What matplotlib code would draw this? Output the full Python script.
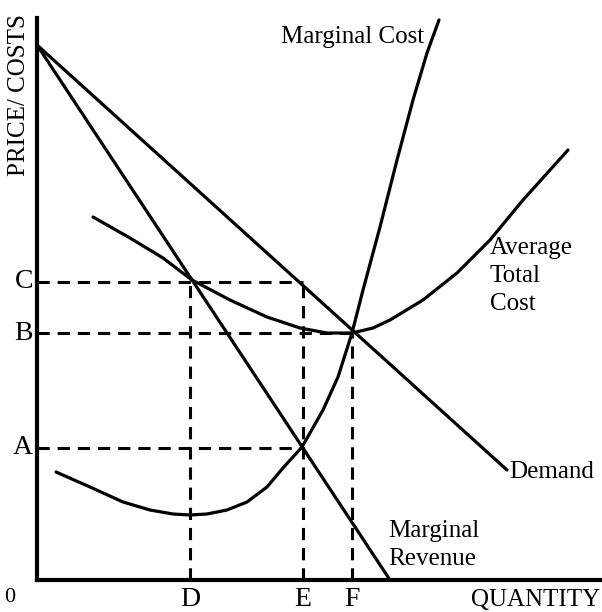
import numpy as np
import matplotlib.pyplot as plt

plt.rcParams['font.family'] = ['Liberation Serif', 'DejaVu Serif']

# units: quantity / price measured from the origin of the diagram
demand_q = [0, 470]
demand_p = [535, 110]
mr_q = [0, 353]
mr_p = [535, 0]
atc_q = [56, 93, 126, 155, 193, 230, 263, 290, 315, 336, 353, 386, 420, 453, 486, 531]
atc_p = [363, 342, 322, 300, 280, 263, 252, 247, 247, 252, 260, 280, 307, 340, 380, 430]
mc_q = [19, 53, 86, 113, 136, 153, 170, 190, 210, 230, 246, 265, 286, 301, 315,
        326, 343, 360, 376, 390, 402]
mc_p = [108, 93, 78, 70, 66, 65, 66, 70, 78, 93, 112, 133, 170, 203, 247,
        290, 353, 420, 480, 527, 560]

price_levels = {'C': 298, 'B': 247, 'A': 132}
price_ends = {'C': 266, 'B': 315, 'A': 266}
qty_levels = {'D': 153, 'E': 266, 'F': 315}
qty_tops = {'D': 298, 'E': 298, 'F': 247}

fig = plt.figure(figsize=(6.02, 6.12), dpi=100)
ax = fig.add_axes([0, 0, 1, 1])
ax.set_xlim(-37, 565)
ax.set_ylim(-32, 580)

lw = 2.3
for q, p in [(demand_q, demand_p), (mr_q, mr_p), (atc_q, atc_p), (mc_q, mc_p)]:
    ax.plot(q, p, color='black', lw=lw, solid_capstyle='round', solid_joinstyle='round')

dash = (0, (4, 2.6))
for k, p in price_levels.items():
    ax.plot([0, price_ends[k]], [p, p], color='black', lw=2.2, linestyle=dash)
    ax.text(-4, p, k, fontsize=20, ha='right', va='center')
for k, q in qty_levels.items():
    ax.plot([q, q], [0, qty_tops[k]], color='black', lw=2.2, linestyle=dash)
    ax.text(q, -7, k, fontsize=20, ha='center', va='top')

for s in ['top', 'right']:
    ax.spines[s].set_visible(False)
ax.spines['left'].set_position(('data', 0))
ax.spines['bottom'].set_position(('data', 0))
ax.spines['left'].set_bounds(0, 562)
ax.spines['bottom'].set_bounds(0, 563)
ax.spines['left'].set_linewidth(3)
ax.spines['bottom'].set_linewidth(3)
ax.set_xticks([])
ax.set_yticks([])

ax.text(-27, -8, '0', fontsize=16, ha='center', va='top')
ax.text(563, -9, 'QUANTITY', fontsize=18, ha='right', va='top')
ax.text(-18, 485, 'PRICE/ COSTS', fontsize=18, rotation=90, ha='center', va='center')
ax.text(316, 543, 'Marginal Cost', fontsize=18, ha='center', va='center')
ax.text(453, 304, 'Average\nTotal\nCost', fontsize=18, ha='left', va='center',
        linespacing=1.35)
ax.text(472, 108, 'Demand', fontsize=18, ha='left', va='center')
ax.text(351, 35, 'Marginal\nRevenue', fontsize=18, ha='left', va='center',
        linespacing=1.35)

fig.savefig('out.png', dpi=100)
